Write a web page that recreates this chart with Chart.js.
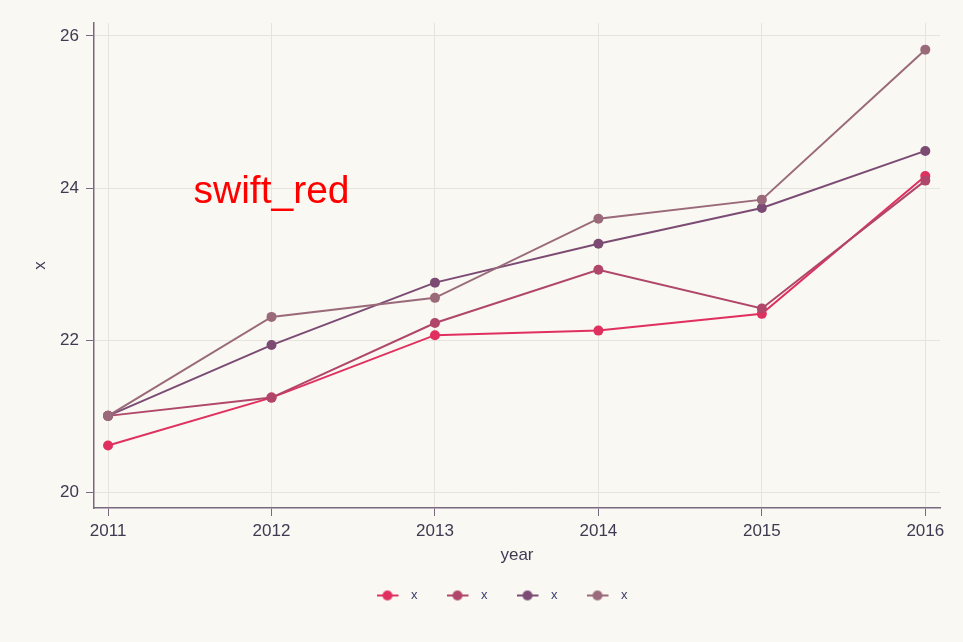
<script src="https://cdn.jsdelivr.net/npm/chart.js@4.4.0/dist/chart.umd.min.js"></script>
<style>
  body { margin: 0; background: #f9f8f2; }
  #wrap { width: 963px; height: 642px; }
</style>
<div id="wrap"><canvas id="line-chart" width="963" height="642"></canvas></div>
<script>
// data
const years = [2011, 2012, 2013, 2014, 2015, 2016];
const s1 = [20.62, 21.25, 22.07, 22.13, 22.35, 24.16];
const s2 = [21.01, 21.25, 22.23, 22.93, 22.42, 24.10];
const s3 = [21.01, 21.94, 22.76, 23.27, 23.74, 24.49];
const s4 = [21.01, 22.31, 22.56, 23.60, 23.85, 25.82];
const yTicks = [20, 22, 24, 26];
const seriesNames = ['x', 'x', 'x', 'x'];
const colors = ['#e0305f', '#b0466a', '#7b4b74', '#9a6a7a'];

const axisColor = '#7a6880';
const gridColor = '#e6e4dc';
const textColor = '#3e3a52';
const font = '"Liberation Sans", Arial, sans-serif';

// line+dot images for the legend (extra room on the right)
function legendMark(color) {
  const c = document.createElement('canvas');
  c.width = 28; c.height = 12;
  const g = c.getContext('2d');
  g.strokeStyle = color; g.lineWidth = 2;
  g.beginPath(); g.moveTo(0, 6); g.lineTo(22, 6); g.stroke();
  g.fillStyle = color;
  g.beginPath(); g.arc(11, 6, 5, 0, Math.PI * 2); g.fill();
  return c;
}
const marks = colors.map(legendMark);

const allSeries = [s1, s2, s3, s4];
const datasets = allSeries.map((s, i) => ({
  label: seriesNames[i],
  data: years.map((y, j) => ({ x: y, y: s[j] })),
  borderColor: colors[i],
  backgroundColor: colors[i],
  borderWidth: 2,
  pointRadius: 5,
  pointHoverRadius: 5,
  pointBorderWidth: 0,
  pointStyle: 'circle',
  tension: 0,
  order: allSeries.length - i   // later series painted on top
}));

const bgPlugin = {
  id: 'bg',
  beforeDraw(chart) {
    const ctx = chart.ctx;
    ctx.save();
    ctx.fillStyle = '#f9f8f2';
    ctx.fillRect(0, 0, chart.width, chart.height);
    ctx.restore();
  }
};

// legend sits a bit right of the canvas centre in the original
const legendShift = {
  id: 'legendShift',
  afterLayout(chart) {
    if (chart.legend) {
      chart.legend.left += 32;
      chart.legend.right += 32;
    }
  }
};

const labelPlugin = {
  id: 'swiftLabel',
  afterDatasetsDraw(chart) {
    const ctx = chart.ctx;
    const x = chart.scales.x.getPixelForValue(2012);
    const y = chart.scales.y.getPixelForValue(24);
    ctx.save();
    ctx.fillStyle = '#ff0000';
    ctx.font = '39px ' + font;
    ctx.textAlign = 'center';
    ctx.textBaseline = 'alphabetic';
    ctx.fillText('swift_red', x, y + 14.5);
    ctx.restore();
  }
};

new Chart(document.getElementById('line-chart'), {
  type: 'line',
  data: { datasets: datasets },
  plugins: [bgPlugin, legendShift, labelPlugin],
  options: {
    responsive: false,
    animation: false,
    layout: { padding: { top: 23, right: 23, left: 0, bottom: 30 } },
    plugins: {
      tooltip: { enabled: false },
      legend: {
        position: 'bottom',
        labels: {
          usePointStyle: true,
          pointStyleWidth: 28,
          boxHeight: 12,
          padding: 29,
          color: '#3a3f6e',
          font: { family: font, size: 13 },
          generateLabels(chart) {
            return chart.data.datasets.map((d, i) => ({
              text: d.label,
              pointStyle: marks[i],
              fillStyle: colors[i],
              strokeStyle: colors[i],
              lineWidth: 0,
              fontColor: '#3a3f6e',
              datasetIndex: i
            }));
          }
        }
      }
    },
    scales: {
      x: {
        type: 'linear',
        min: 2010.914,
        max: 2016.09,
        afterBuildTicks(scale) { scale.ticks = years.map(v => ({ value: v })); },
        afterFit(scale) { scale.height = 52; },
        border: { color: axisColor, width: 1.5 },
        grid: { color: gridColor, tickColor: axisColor, tickLength: 8, lineWidth: 1 },
        ticks: { color: textColor, font: { family: font, size: 17 }, padding: 5,
                 callback: v => String(v) },
        title: { display: true, text: 'year', color: textColor,
                 font: { family: font, size: 17 }, padding: { top: 4, bottom: -6 } }
      },
      y: {
        min: 19.8,
        max: 26.17,
        afterBuildTicks(scale) { scale.ticks = yTicks.map(v => ({ value: v })); },
        afterFit(scale) { scale.width = 94; },
        border: { color: axisColor, width: 1.5 },
        grid: { color: gridColor, tickColor: axisColor, tickLength: 8, lineWidth: 1 },
        ticks: { color: textColor, font: { family: font, size: 17 }, padding: 7 },
        title: { display: true, text: 'x', color: textColor,
                 font: { family: font, size: 17 }, padding: { top: 30 } }
      }
    }
  }
});
</script>
